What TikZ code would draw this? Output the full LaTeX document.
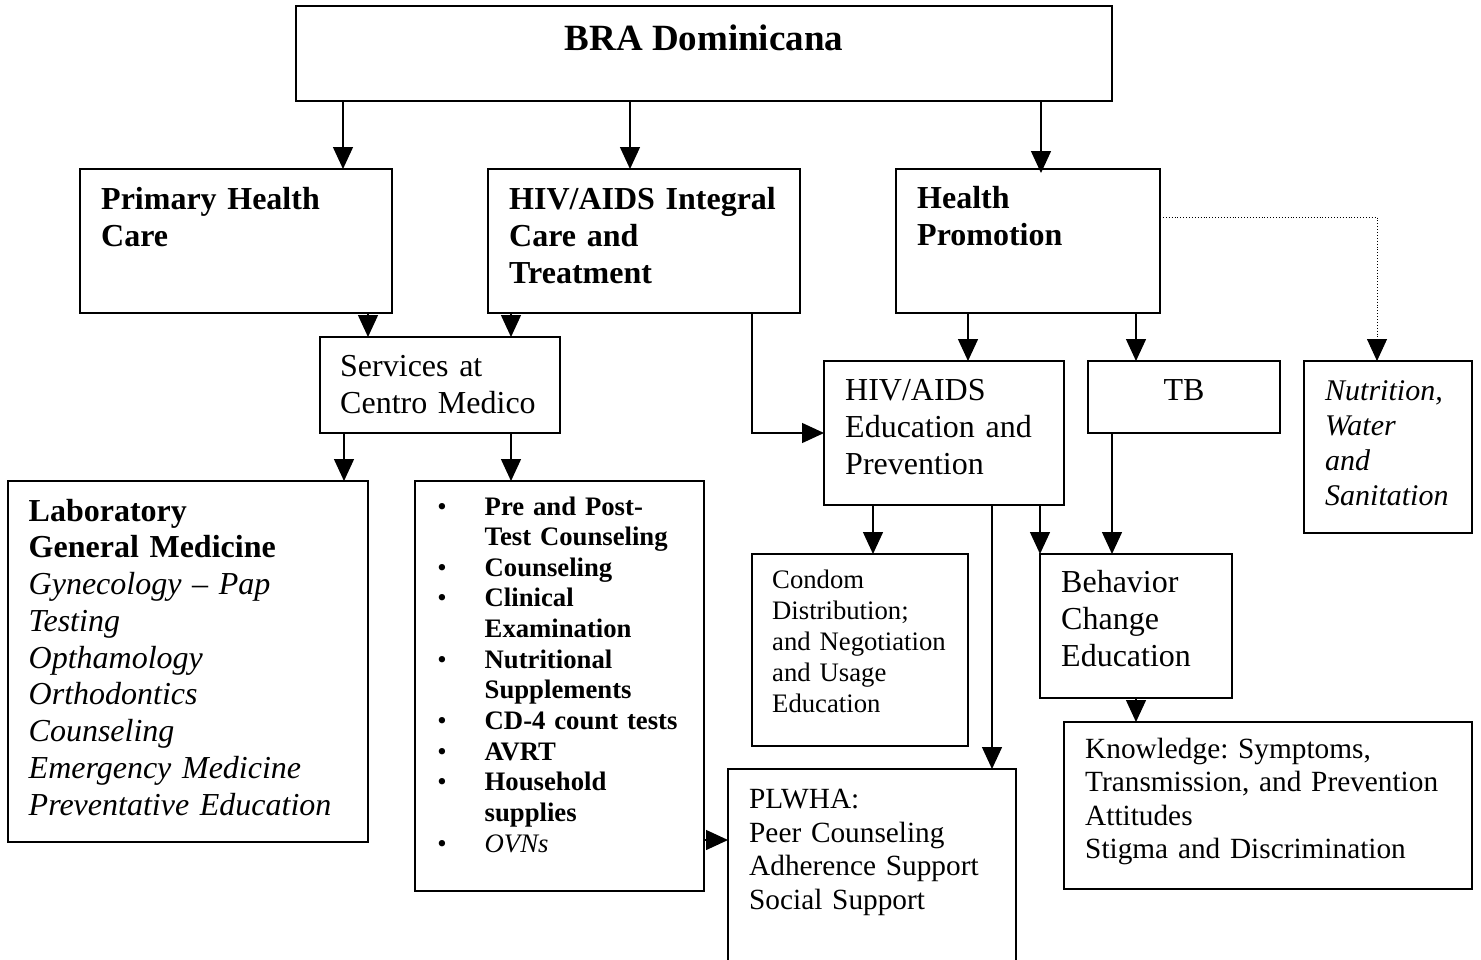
\documentclass[tikz,border=0pt]{standalone}
\usepackage{fontspec}
\setmainfont{Liberation Serif}
\usetikzlibrary{arrows.meta, calc}

\newcommand{\bitem}{\leavevmode\llap{\textbullet\hspace{38pt}}}
\frenchspacing

\begin{document}
\begin{tikzpicture}[
    x=1pt, y=-1pt,
    box/.style={
        rectangle, draw=black, line width=1.8pt,
        anchor=north west, inner sep=0pt, outer sep=0pt
    },
    txt/.style={anchor=base west, inner sep=0pt, align=left},
    head/.style={font=\bfseries\fontsize{32}{37}\selectfont},
    body/.style={font=\fontsize{32}{37}\selectfont},
    mid/.style={font=\fontsize{29.3}{33.8}\selectfont},
    small/.style={font=\fontsize{26.7}{30.66}\selectfont},
    arr/.style={-{Triangle[length=22pt, width=20pt]}, line width=1.4pt},
    dotarr/.style={-{Triangle[length=22pt, width=20pt]}, line width=0.9pt, dotted}
]

% page frame
\fill[white] (0,0) rectangle (1481,959);
\clip (0,0) rectangle (1481,959);

% 1. Top level
\node[box, minimum width=816pt, minimum height=95pt] (bra) at (296,6) {};
\node[anchor=base, inner sep=0pt, font=\bfseries\fontsize{37}{42}\selectfont] (bratext) at (704,50) {BRA Dominicana};

% 2. Program areas
\node[box, minimum width=312pt, minimum height=144pt] (phc) at (80,169) {};
\node[txt, head, text width=285pt] (phctext) at (101,209.3) {Primary Health\\Care};

\node[box, minimum width=312pt, minimum height=144pt] (hivcare) at (488,169) {};
\node[txt, head, text width=285pt] (hivcaretext) at (509,209.3) {HIV/AIDS Integral\\Care and\\Treatment};

\node[box, minimum width=264pt, minimum height=144pt] (hp) at (896,169) {};
\node[txt, head, text width=235pt] (hptext) at (917,208.5) {Health\\Promotion};

% 3. Second level
\node[box, minimum width=240pt, minimum height=96pt] (services) at (320,337) {};
\node[txt, body, text width=215pt] (servicestext) at (340,376.7) {Services at\\Centro Medico};

\node[box, minimum width=240pt, minimum height=144pt] (hivedu) at (824,361) {};
\node[txt, body, text width=215pt] (hivedutext) at (845,400.7) {HIV/AIDS\\Education and\\Prevention};

\node[box, minimum width=192pt, minimum height=72pt] (tb) at (1088,361) {};
\node[anchor=base, inner sep=0pt, body] (tbtext) at (1184,400.7) {TB};

\node[box, minimum width=168pt, minimum height=172pt] (nutr) at (1304,361) {};
\node[txt, font=\itshape\fontsize{30}{35}\selectfont, text width=145pt] (nutrtext) at (1325,400) {Nutrition,\\Water\\and\\Sanitation};

% 4. Services at Centro Medico
\node[box, minimum width=360pt, minimum height=361pt] (lab) at (8,481) {};
\node[txt, font=\fontsize{32}{36.75}\selectfont, text width=335pt] (labtext) at (28.5,521) {%
    \textbf{Laboratory}\\
    \textbf{General Medicine}\\
    \itshape Gynecology -- Pap\\
    Testing\\
    Opthamology\\
    Orthodontics\\
    Counseling\\
    Emergency Medicine\\
    Preventative Education};

\node[box, minimum width=289pt, minimum height=410pt] (bullets) at (415,481) {};
\node[txt, small, text width=215pt] (bulletstext) at (484.5,515) {%
    \bitem\textbf{Pre and Post-}\\
    \textbf{Test Counseling}\\
    \bitem\textbf{Counseling}\\
    \bitem\textbf{Clinical}\\
    \textbf{Examination}\\
    \bitem\textbf{Nutritional}\\
    \textbf{Supplements}\\
    \bitem\textbf{CD-4 count tests}\\
    \bitem\textbf{AVRT}\\
    \bitem\textbf{Household}\\
    \textbf{supplies}\\
    \bitem\textit{OVNs}};

% 5. Health promotion branches
\node[box, minimum width=216pt, minimum height=192pt] (condom) at (752,554) {};
\node[txt, font=\fontsize{26.7}{31}\selectfont, text width=192pt] (condomtext) at (772,588.3) {Condom\\Distribution;\\and Negotiation\\and Usage\\Education};

\node[box, minimum width=192pt, minimum height=144pt] (behavior) at (1040,554) {};
\node[txt, body, text width=168pt] (behaviortext) at (1061,592.7) {Behavior\\Change\\Education};

\node[box, minimum width=408pt, minimum height=167pt] (knowledge) at (1064,722) {};
\node[txt, font=\fontsize{29.3}{33.4}\selectfont, text width=385pt] (knowledgetext) at (1085,758.3) {Knowledge: Symptoms,\\Transmission, and Prevention\\Attitudes\\Stigma and Discrimination};

\node[box, minimum width=288pt, minimum height=240pt] (plwha) at (728,769) {};
\node[txt, mid, text width=265pt] (plwhatext) at (749,808.3) {PLWHA:\\Peer Counseling\\Adherence Support\\Social Support};

% 6. Connectors
\draw[arr] ([xshift=47pt]bra.south west) -- ([xshift=263pt]phc.north west);
\draw[arr] ([xshift=334pt]bra.south west) -- ([xshift=142pt]hivcare.north west);
\draw[arr, shorten >=-4pt] ([xshift=745pt]bra.south west) -- ([xshift=145pt]hp.north west);

\draw[arr] ([xshift=288pt]phc.south west) -- ([xshift=48pt]services.north west);
\draw[arr] ([xshift=23pt]hivcare.south west) -- ([xshift=191pt]services.north west);
\draw[arr] ([xshift=264pt]hivcare.south west) |- ([yshift=-72pt]hivedu.north west);

\draw[arr] ([xshift=24pt]services.south west) -- ([xshift=336pt]lab.north west);
\draw[arr] ([xshift=191pt]services.south west) -- ([xshift=96pt]bullets.north west);

\draw[arr] ([xshift=72pt]hp.south west) -- ([xshift=144pt]hivedu.north west);
\draw[arr] ([xshift=240pt]hp.south west) -- ([xshift=48pt]tb.north west);
\draw[dotarr] ([yshift=-48pt]hp.north east) -| ([xshift=73pt]nutr.north west);

\draw[arr] ([xshift=49pt]hivedu.south west) -- ([xshift=121pt]condom.north west);
\draw[arr] ([xshift=168pt]hivedu.south west) -- ([xshift=264pt]plwha.north west);
\draw[arr] ([xshift=216pt]hivedu.south west) -- (behavior.north west);
\draw[arr] ([xshift=24pt]tb.south west) -- ([xshift=72pt]behavior.north west);
\draw[arr] ([xshift=96pt]behavior.south west) -- ([xshift=72pt]knowledge.north west);

\draw[arr] ([yshift=-359pt]bullets.north east) -- ([yshift=-71pt]plwha.north west);

\end{tikzpicture}
\end{document}
